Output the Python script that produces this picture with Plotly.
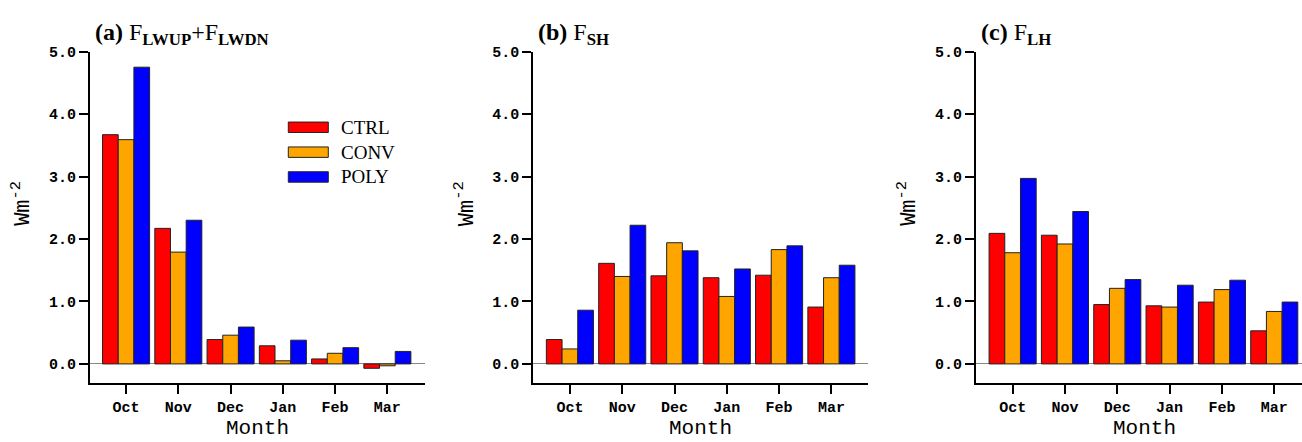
import plotly.graph_objects as go

# Monthly mean surface flux differences (W m-2), three experiments per panel
months = ["Oct", "Nov", "Dec", "Jan", "Feb", "Mar"]
series_names = ["CTRL", "CONV", "POLY"]
series_colors = ["#FF0000", "#FFA500", "#0000FF"]

lw_ctrl = [3.67, 2.17, 0.39, 0.29, 0.08, -0.07]
lw_conv = [3.59, 1.79, 0.46, 0.05, 0.17, -0.03]
lw_poly = [4.75, 2.30, 0.59, 0.38, 0.26, 0.20]

sh_ctrl = [0.39, 1.61, 1.41, 1.38, 1.42, 0.91]
sh_conv = [0.24, 1.40, 1.94, 1.08, 1.83, 1.38]
sh_poly = [0.86, 2.22, 1.81, 1.52, 1.89, 1.58]

lh_ctrl = [2.09, 2.06, 0.95, 0.93, 0.99, 0.53]
lh_conv = [1.78, 1.92, 1.21, 0.91, 1.19, 0.84]
lh_poly = [2.97, 2.44, 1.35, 1.26, 1.34, 0.99]

panel_titles = [
    "<b>(a)</b> F<sub><b>LWUP</b></sub>+F<sub><b>LWDN</b></sub>",
    "<b>(b)</b> F<sub><b>SH</b></sub>",
    "<b>(c)</b> F<sub><b>LH</b></sub>",
]
panels = [
    [lw_ctrl, lw_conv, lw_poly],
    [sh_ctrl, sh_conv, sh_poly],
    [lh_ctrl, lh_conv, lh_poly],
]

W, H = 1302, 442
# panel layout in pixels: (left, right) of each plot area, and x ranges
px_left = [90, 533.3, 976]
px_right = [425, 868, 1302]
x_ranges = [[-0.69, 5.72], [-0.70, 5.70], [-0.70, 5.53]]
# horizontal centre of each panel's full (unclipped) width, for "Month"
px_center = [257.5, 700.7, 1144]
y_top_px, y_bot_px = 45.3, 381.7

mono = "Liberation Mono"
serif = "Liberation Serif"

fig = go.Figure()
layout = dict(
    width=W, height=H,
    margin=dict(l=0, r=0, t=0, b=0),
    paper_bgcolor="white", plot_bgcolor="white",
    barmode="group", bargap=0.1, bargroupgap=0,
    showlegend=False,
)

annotations = []
shapes = []
for i, (vals, title) in enumerate(zip(panels, panel_titles)):
    xa = "x" if i == 0 else f"x{i+1}"
    ya = "y" if i == 0 else f"y{i+1}"
    for name, color, v in zip(series_names, series_colors, vals):
        fig.add_trace(go.Bar(
            x=months, y=v, name=name, xaxis=xa, yaxis=ya,
            marker=dict(color=color, line=dict(color="#222", width=1)),
            offsetgroup=name,
        ))
    dom_x = [px_left[i] / W, px_right[i] / W]
    dom_y = [1 - y_bot_px / H, 1 - y_top_px / H]
    axis_common = dict(
        showline=True, linecolor="black", linewidth=2,
        ticks="outside", ticklen=9, tickwidth=2, tickcolor="black",
        showgrid=False, mirror=False,
        tickfont=dict(family=mono, size=15, color="black", weight="bold"),
    )
    layout["xaxis" if i == 0 else f"xaxis{i+1}"] = dict(
        domain=dom_x, anchor=ya, range=x_ranges[i],
        type="category", zeroline=False, ticklabelstandoff=0,
        **axis_common,
    )
    layout["yaxis" if i == 0 else f"yaxis{i+1}"] = dict(
        domain=dom_y, anchor=xa, range=[-0.3, 5.0001],
        tickvals=[0, 1, 2, 3, 4, 5], tickformat=".1f",
        zeroline=True, zerolinecolor="#888", zerolinewidth=1,
        **axis_common,
    )
    # panel title
    annotations.append(dict(
        text=title, xref="paper", yref="paper",
        x=(px_left[i] + 3) / W, y=1 - 27 / H,
        xanchor="left", yanchor="middle", showarrow=False,
        font=dict(family=serif, size=24, color="black"),
    ))
    # x-axis title
    annotations.append(dict(
        text="Month", xref="paper", yref="paper",
        x=px_center[i] / W, y=1 - 428 / H,
        xanchor="center", yanchor="middle", showarrow=False,
        font=dict(family=mono, size=21, color="black"),
    ))
    # y-axis title
    annotations.append(dict(
        text="Wm<sup>-2</sup>", xref="paper", yref="paper",
        x=(px_left[i] - 68) / W, y=1 - 200 / H,
        xanchor="center", yanchor="middle", showarrow=False, textangle=-90,
        font=dict(family=mono, size=22, color="black"),
    ))

# legend in panel (a)
leg_rows_px = [122.2, 147.5, 172.7]
for name, color, yc in zip(series_names, series_colors, leg_rows_px):
    shapes.append(dict(
        type="rect", xref="paper", yref="paper",
        x0=288.3 / W, x1=328.3 / W,
        y0=1 - (yc + 5.3) / H, y1=1 - (yc - 5.3) / H,
        fillcolor=color, line=dict(color="#222", width=1),
    ))
    annotations.append(dict(
        text=name, xref="paper", yref="paper",
        x=339 / W, y=1 - yc / H, xanchor="left", yanchor="middle",
        showarrow=False, font=dict(family=serif, size=19, color="black"),
    ))

layout["annotations"] = annotations
layout["shapes"] = shapes
fig.update_layout(**layout)
fig.write_html("out.html")
